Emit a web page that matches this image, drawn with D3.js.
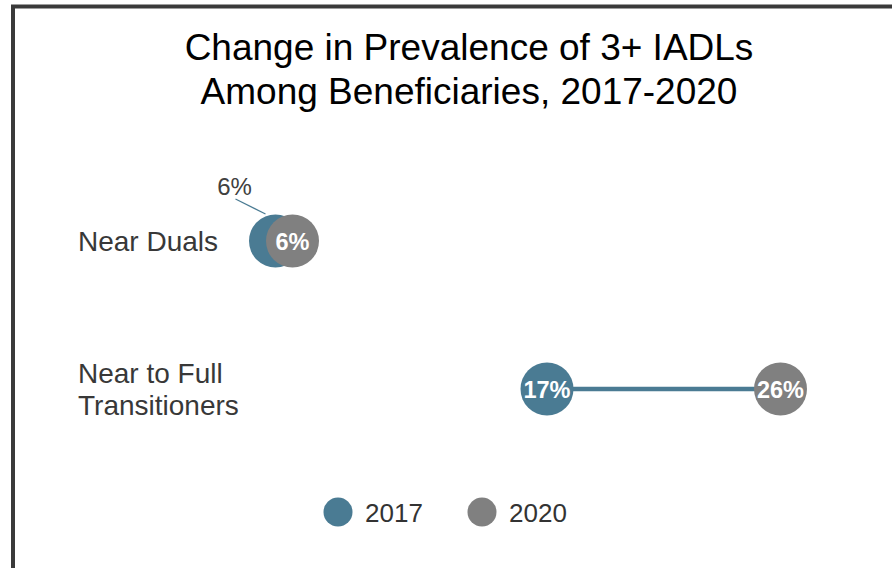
<!DOCTYPE html>
<html>
<head>
<meta charset="utf-8">
<script src="https://cdn.jsdelivr.net/npm/d3@7"></script>
<style>
  body { margin: 0; background: #fff; }
  svg { display: block; font-family: "Liberation Sans", Arial, sans-serif; }
</style>
</head>
<body>
<div id="chart"></div>
<script>
// données
const categories = ["Near Duals", "Near to Full Transitioners"];
const categoryLines = [["Near Duals"], ["Near to Full", "Transitioners"]];
const years = ["2017", "2020"];
const values2017 = [5.7, 16.56];
const values2020 = [6.38, 25.9];
const titleLines = ["Change in Prevalence of 3+ IADLs", "Among Beneficiaries, 2017-2020"];

const colors = { "2017": "#4a7b93", "2020": "#808080" };

const width = 892, height = 568;
const radius = 26.5;

const svg = d3.select("#chart").append("svg")
    .attr("width", width)
    .attr("height", height);

// cadre (coupé à droite et en bas)
svg.append("rect")
    .attr("x", 13)
    .attr("y", 6.5)
    .attr("width", 1000)
    .attr("height", 1000)
    .attr("fill", "none")
    .attr("stroke", "#3a3a3a")
    .attr("stroke-width", 4);

// titre
svg.append("text")
    .attr("x", 469)
    .attr("y", 60)
    .attr("text-anchor", "middle")
    .style("font-size", "37px")
    .style("fill", "#000")
    .selectAll("tspan")
    .data(titleLines)
    .enter().append("tspan")
    .attr("x", 469)
    .attr("dy", (d, i) => i === 0 ? 0 : 44)
    .text(d => d);

// échelles
const xScale = d3.scaleLinear()
    .domain([0, 28])
    .range([133, 833]);

const yScale = d3.scalePoint()
    .domain(categories)
    .range([241, 389]);

// libellés des catégories
const catLabels = svg.append("g");
categories.forEach((cat, i) => {
    const lines = categoryLines[i];
    const lh = 32;
    const y0 = yScale(cat) - (lines.length - 1) * lh / 2 + 10;
    const t = catLabels.append("text")
        .attr("x", 78)
        .attr("y", y0)
        .style("font-size", "28px")
        .style("fill", "#383838");
    lines.forEach((l, j) => {
        t.append("tspan").attr("x", 78).attr("dy", j === 0 ? 0 : lh).text(l);
    });
});

// lignes entre 2017 et 2020
svg.append("g").selectAll("line")
    .data(categories)
    .enter().append("line")
    .attr("x1", (d, i) => xScale(values2017[i]))
    .attr("x2", (d, i) => xScale(values2020[i]))
    .attr("y1", d => yScale(d))
    .attr("y2", d => yScale(d))
    .attr("stroke", colors["2017"])
    .attr("stroke-width", 4.5);

const fmt = v => Math.round(v) + "%";

// points
const series = [
    { year: "2017", values: values2017 },
    { year: "2020", values: values2020 }
];

series.forEach(s => {
    const pts = s.values.map((v, i) => ({ v: v, cat: categories[i], i: i }));
    const g = svg.append("g");
    g.selectAll("circle")
        .data(pts)
        .enter().append("circle")
        .attr("cx", d => xScale(d.v))
        .attr("cy", d => yScale(d.cat))
        .attr("r", radius)
        .attr("fill", colors[s.year]);
});

// étiquettes dans les cercles (sauf 2017 Near Duals, trop proche -> étiquette déportée)
series.forEach(s => {
    const pts = s.values
        .map((v, i) => ({ v: v, cat: categories[i], i: i }))
        .filter(d => !(s.year === "2017" && d.i === 0));
    svg.append("g").selectAll("text")
        .data(pts)
        .enter().append("text")
        .attr("x", d => xScale(d.v))
        .attr("y", d => yScale(d.cat) + 8.5)
        .attr("text-anchor", "middle")
        .style("font-size", "23.5px")
        .style("font-weight", "bold")
        .style("fill", "#fff")
        .text(d => fmt(d.v));
});

// étiquette déportée avec trait de rappel
const cx0 = xScale(values2017[0]), cy0 = yScale(categories[0]);
svg.append("line")
    .attr("x1", cx0 - 40)
    .attr("y1", cy0 - 42)
    .attr("x2", cx0 - 10)
    .attr("y2", cy0 - 27)
    .attr("stroke", colors["2017"])
    .attr("stroke-width", 1.2);
svg.append("text")
    .attr("x", cx0 - 41)
    .attr("y", cy0 - 46)
    .attr("text-anchor", "middle")
    .style("font-size", "24px")
    .style("fill", "#404040")
    .text(fmt(values2017[0]));

// légende
const legendX = [338, 482];
const legend = svg.append("g").selectAll("g")
    .data(years)
    .enter().append("g")
    .attr("transform", (d, i) => `translate(${legendX[i]},512)`);
legend.append("circle")
    .attr("r", 14.5)
    .attr("fill", d => colors[d]);
legend.append("text")
    .attr("x", 27)
    .attr("y", 10)
    .style("font-size", "26px")
    .style("fill", "#333")
    .text(d => d);
</script>
</body>
</html>
